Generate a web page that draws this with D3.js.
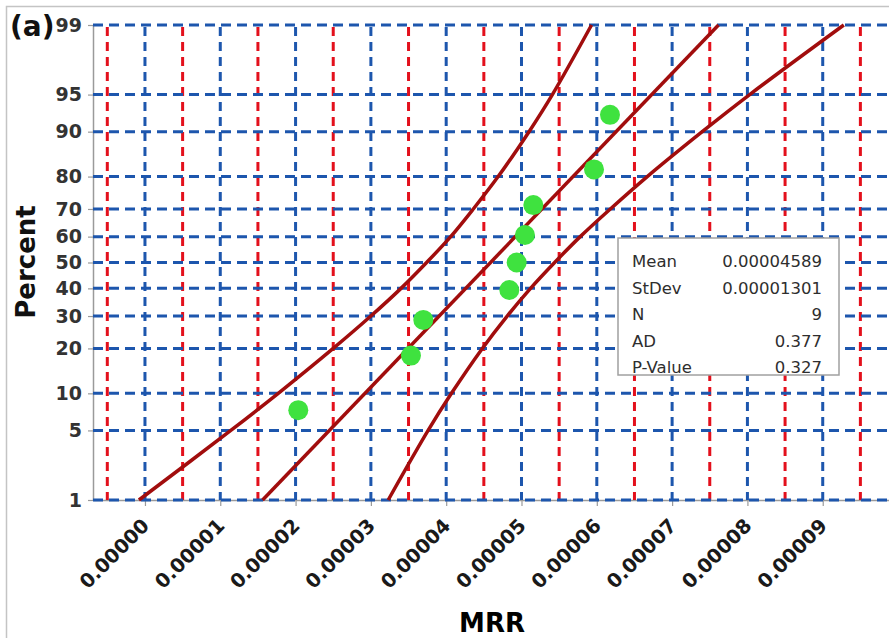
<!DOCTYPE html>
<html>
<head>
<meta charset="utf-8">
<script src="https://cdn.jsdelivr.net/npm/d3@7"></script>
<style>
body{margin:0;background:#fff;}
svg{display:block;}
</style>
</head>
<body>
<svg id="probPlot"></svg>
<script>

var percentTicks = [1,5,10,20,30,40,50,60,70,80,90,95,99]
var xTicks = [0,0.00001,0.00002,0.00003,0.00004,0.00005,0.00006,0.00007,0.00008,0.00009]
var xTickLabels = ["0.00000","0.00001","0.00002","0.00003","0.00004","0.00005","0.00006","0.00007","0.00008","0.00009"]
var xMinorTicks = [-0.000005,0.000005,0.000015,0.000025,0.000035,0.000045,0.000055,0.000065,0.000075,0.000085,0.000095]

var mrrValues = [0.00002036,0.00003532,0.00003696,0.00004838,0.00004936,0.00005046,0.00005157,0.00005963,0.00006175]
var mrrPercent = [7.4,18.1,28.7,39.4,50,60.6,71.3,81.9,92.6]

var fitPercent = [1,99]
var fitValues = [0.00001562,0.00007616]

var bandPercent = [1,5,10,20,30,40,50,60,70,80,90,95,99]
var lowerBand = [-0.0000008,0.0000114,0.0000177,0.0000250,0.0000300,0.0000340,0.0000374,0.0000406,0.0000436,0.0000469,0.0000510,0.0000541,0.0000593]
var upperBand = [0.0000323,0.0000376,0.0000407,0.0000448,0.0000481,0.0000512,0.0000544,0.0000578,0.0000618,0.0000667,0.0000740,0.0000803,0.0000928]

var statLabels = ["Mean","StDev","N","AD","P-Value"]
var statValues = ["0.00004589","0.00001301","9","0.377","0.327"]

// inverse normal cdf, for the probability axis
var probit = function(p)
{
    var a=[-3.969683028665376e+01,2.209460984245205e+02,-2.759285104469687e+02,1.383577518672690e+02,-3.066479806614716e+01,2.506628277459239e+00]
    var b=[-5.447609879822406e+01,1.615858368580409e+02,-1.556989798598866e+02,6.680131188771972e+01,-1.328068155288572e+01]
    var c=[-7.784894002430293e-03,-3.223964580411365e-01,-2.400758277161838e+00,-2.549732539343734e+00,4.374664141464968e+00,2.938163982698783e+00]
    var d=[7.784695709041462e-03,3.224671290700398e-01,2.445134137142996e+00,3.754408661907416e+00]
    var pl=0.02425,q,r
    if(p<pl){
        q=Math.sqrt(-2*Math.log(p))
        return (((((c[0]*q+c[1])*q+c[2])*q+c[3])*q+c[4])*q+c[5])/((((d[0]*q+d[1])*q+d[2])*q+d[3])*q+1)
    }
    if(p>1-pl){
        q=Math.sqrt(-2*Math.log(1-p))
        return -(((((c[0]*q+c[1])*q+c[2])*q+c[3])*q+c[4])*q+c[5])/((((d[0]*q+d[1])*q+d[2])*q+d[3])*q+1)
    }
    q=p-0.5; r=q*q
    return (((((a[0]*r+a[1])*r+a[2])*r+a[3])*r+a[4])*r+a[5])*q/(((((b[0]*r+b[1])*r+b[2])*r+b[3])*r+b[4])*r+1)
}

var initGraph = function()
{
    var screen = {width:889,height:638}
    var plot = {left:93,right:889,top:25,bottom:500}

    var svg = d3.select("#probPlot")
        .attr("width",screen.width)
        .attr("height",screen.height)

    svg.append("rect")
        .attr("x",6.5).attr("y",6.5)
        .attr("width",screen.width+20).attr("height",screen.height+20)
        .attr("fill","none")
        .attr("stroke","#c4c4c4")
        .attr("stroke-width",1.5)

    var xScale = d3.scaleLinear()
        .domain([-0.0000069,0.0000988])
        .range([plot.left,plot.right])

    var zScale = d3.scaleLinear()
        .domain([probit(0.01),probit(0.99)])
        .range([plot.bottom,plot.top])

    var yScale = function(pct){ return zScale(probit(pct/100)) }

    // axes
    var xAxis = d3.axisBottom(xScale)
        .tickValues(xTicks)
        .tickFormat(function(d,i){ return xTickLabels[i] })
        .tickSize(6)
        .tickSizeOuter(0)

    var gx = svg.append("g")
        .attr("class","xaxis")
        .attr("transform","translate(0,"+plot.bottom+")")
        .call(xAxis)
    gx.select(".domain").attr("stroke","#9a9a9a").attr("stroke-width",1.5)
    gx.selectAll(".tick line").attr("stroke","#9a9a9a").attr("stroke-width",1.2)
    gx.selectAll(".tick text")
        .attr("font-family","DejaVu Sans")
        .attr("font-weight","bold")
        .attr("font-size",19.5)
        .attr("fill","#1a1a1a")
        .attr("text-anchor","end")
        .attr("x",0).attr("y",0).attr("dy",0)
        .attr("transform","translate(5,27) rotate(-45)")

    var yAxis = d3.axisLeft(zScale)
        .tickValues(percentTicks.map(function(p){ return probit(p/100) }))
        .tickFormat(function(d,i){ return percentTicks[i] })
        .tickSize(5)
        .tickSizeOuter(0)

    var gy = svg.append("g")
        .attr("class","yaxis")
        .attr("transform","translate("+plot.left+",0)")
        .call(yAxis)
    gy.select(".domain").attr("stroke","#9a9a9a").attr("stroke-width",1.5)
    gy.selectAll(".tick line").attr("stroke","#9a9a9a").attr("stroke-width",1.2)
    gy.selectAll(".tick text")
        .attr("font-family","DejaVu Sans")
        .attr("font-weight","bold")
        .attr("font-size",19)
        .attr("fill","#333")
        .attr("x",-11)

    // grid
    var grid = svg.append("g").attr("class","grid")

    grid.selectAll(".vminor")
        .data(xMinorTicks)
        .enter()
        .append("line")
        .attr("x1",function(d){ return xScale(d) })
        .attr("x2",function(d){ return xScale(d) })
        .attr("y1",plot.top+2)
        .attr("y2",plot.bottom)
        .attr("stroke","#e3101c")
        .attr("stroke-width",3)
        .attr("stroke-dasharray","9,6")

    grid.selectAll(".vmajor")
        .data(xTicks)
        .enter()
        .append("line")
        .attr("x1",function(d){ return xScale(d) })
        .attr("x2",function(d){ return xScale(d) })
        .attr("y1",plot.top+2)
        .attr("y2",plot.bottom)
        .attr("stroke","#1d56ad")
        .attr("stroke-width",3)
        .attr("stroke-dasharray","9,6")

    grid.selectAll(".hmajor")
        .data(percentTicks)
        .enter()
        .append("line")
        .attr("x1",plot.left)
        .attr("x2",plot.right)
        .attr("y1",function(d){ return yScale(d) })
        .attr("y2",function(d){ return yScale(d) })
        .attr("stroke","#1d56ad")
        .attr("stroke-width",3)
        .attr("stroke-dasharray","10,6")

    // fit line and confidence bands
    var line = d3.line()
        .x(function(d){ return xScale(d.x) })
        .y(function(d){ return yScale(d.p) })
        .curve(d3.curveCatmullRom)

    var fitData = fitPercent.map(function(p,i){ return {p:p,x:fitValues[i]} })
    var lowData = bandPercent.map(function(p,i){ return {p:p,x:lowerBand[i]} })
    var upData = bandPercent.map(function(p,i){ return {p:p,x:upperBand[i]} })

    svg.selectAll(".fitline")
        .data([lowData,fitData,upData])
        .enter()
        .append("path")
        .attr("class","fitline")
        .attr("d",line)
        .attr("fill","none")
        .attr("stroke","#a10d0d")
        .attr("stroke-width",3.5)

    // points
    svg.selectAll("circle")
        .data(mrrValues)
        .enter()
        .append("circle")
        .attr("cx",function(d){ return xScale(d) })
        .attr("cy",function(d,i){ return yScale(mrrPercent[i]) })
        .attr("r",10)
        .attr("fill","#3fe23f")

    // stats box
    var box = svg.append("g").attr("transform","translate(618,238)")
    box.append("rect")
        .attr("width",221).attr("height",137)
        .attr("fill","#fff")
        .attr("stroke","#a0a0a0")
        .attr("stroke-width",1.5)
    box.selectAll(".slabel")
        .data(statLabels)
        .enter()
        .append("text")
        .attr("x",14)
        .attr("y",function(d,i){ return 29+i*26.6 })
        .attr("font-family","DejaVu Sans")
        .attr("font-size",16.5)
        .attr("fill","#2e2e2e")
        .text(function(d){ return d })
    box.selectAll(".svalue")
        .data(statValues)
        .enter()
        .append("text")
        .attr("x",204)
        .attr("y",function(d,i){ return 29+i*26.6 })
        .attr("text-anchor","end")
        .attr("font-family","DejaVu Sans")
        .attr("font-size",16.5)
        .attr("fill","#2e2e2e")
        .text(function(d){ return d })

    // titles
    svg.append("text")
        .attr("x",10).attr("y",36)
        .attr("font-family","DejaVu Sans")
        .attr("font-weight","bold")
        .attr("font-size",28)
        .attr("fill","#111")
        .text("(a)")

    svg.append("text")
        .attr("transform","translate(35,262) rotate(-90)")
        .attr("text-anchor","middle")
        .attr("font-family","DejaVu Sans")
        .attr("font-weight","bold")
        .attr("font-size",26)
        .attr("fill","#111")
        .text("Percent")

    svg.append("text")
        .attr("x",492).attr("y",632)
        .attr("text-anchor","middle")
        .attr("font-family","DejaVu Sans")
        .attr("font-weight","bold")
        .attr("font-size",26)
        .attr("fill","#000")
        .text("MRR")
}

initGraph()
</script>
</body>
</html>
